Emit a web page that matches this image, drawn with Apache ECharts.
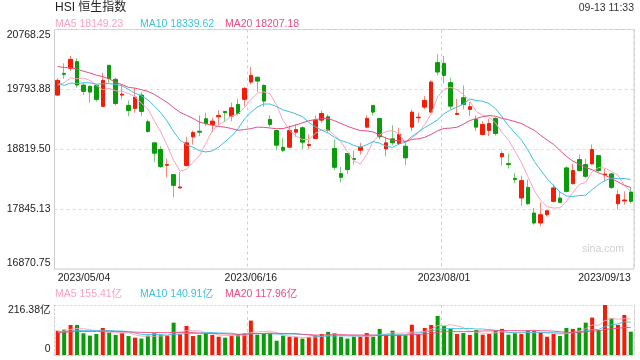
<!DOCTYPE html>
<html><head><meta charset="utf-8">
<script src="https://cdn.jsdelivr.net/npm/echarts/dist/echarts.min.js"></script>
<style>html,body{margin:0;padding:0;background:#fff}#c{width:640px;height:360px}</style>
</head><body><div id="c"></div>
<script>
// ---------- data ----------
const dates = [
 '2023/05/04','2023/05/05','2023/05/08','2023/05/09','2023/05/10','2023/05/11','2023/05/12','2023/05/15','2023/05/16','2023/05/17',
 '2023/05/18','2023/05/19','2023/05/22','2023/05/23','2023/05/24','2023/05/25','2023/05/29','2023/05/30','2023/05/31','2023/06/01',
 '2023/06/02','2023/06/05','2023/06/06','2023/06/07','2023/06/08','2023/06/09','2023/06/12','2023/06/13','2023/06/14','2023/06/15',
 '2023/06/16','2023/06/19','2023/06/20','2023/06/21','2023/06/23','2023/06/26','2023/06/27','2023/06/28','2023/06/29','2023/06/30',
 '2023/07/03','2023/07/04','2023/07/05','2023/07/06','2023/07/07','2023/07/10','2023/07/11','2023/07/12','2023/07/13','2023/07/14',
 '2023/07/18','2023/07/19','2023/07/20','2023/07/21','2023/07/24','2023/07/25','2023/07/26','2023/07/27','2023/07/28','2023/07/31',
 '2023/08/01','2023/08/02','2023/08/03','2023/08/04','2023/08/07','2023/08/08','2023/08/09','2023/08/10','2023/08/11','2023/08/14',
 '2023/08/15','2023/08/16','2023/08/17','2023/08/18','2023/08/21','2023/08/22','2023/08/23','2023/08/24','2023/08/25','2023/08/28',
 '2023/08/29','2023/08/30','2023/08/31','2023/09/04','2023/09/05','2023/09/06','2023/09/07','2023/09/11','2023/09/12','2023/09/13'
];
const opens = [
 19701,20055,20137,20245,19864,19843,19859,19517,20186,19957,
 19701,19533,19484,19701,19267,18924,18815,18559,18407,18190,
 18554,19022,19113,19316,19223,19348,19435,19358,19549,19631,
 19913,19990,19859,19304,19125,18852,18852,19097,19169,18880,
 18994,19293,19348,18831,18423,18750,18668,18803,19179,19533,
 19321,18826,18989,18913,18869,19179,19332,19505,19424,20230,
 20218,19903,19386,19658,19468,19304,19060,19125,19321,18696,
 18586,18346,18026,18199,17782,17619,17754,17971,18026,18516,
 18260,18652,18570,18581,18717,18402,18418,17933,17978,18124
];
const closes = [
 19941,20039,20284,19864,19761,19750,19631,19941,19969,19565,
 19717,19451,19668,19435,19109,18755,18537,18570,18232,18206,
 18924,19092,19097,19239,19277,19370,19414,19495,19402,19810,
 20022,19929,19603,19223,18885,18803,19125,19141,18934,18896,
 19293,19402,19125,18526,18363,18488,18652,18852,19321,19424,
 19022,18924,18924,19060,18679,19424,19342,19614,19913,20076,
 20022,19521,19402,19549,19512,19179,19223,19239,19076,18750,
 18570,18325,18309,17933,17619,17754,17819,18190,17955,18134,
 18472,18472,18379,18815,18472,18418,18199,18080,17994,17971
];
const lows = [
 19690,19968,20093,19822,19701,19577,19598,19505,19903,19533,
 19631,19358,19414,19358,19087,18614,18516,18363,18036,18185,
 18542,18896,19032,19195,19097,19206,19260,19277,19370,19521,
 19876,19750,19512,19185,18803,18771,18843,19022,18826,18826,
 18989,19250,19097,18477,18281,18418,18570,18733,19157,19370,
 18978,18705,18885,18896,18559,19113,19250,19468,19414,20022,
 19892,19468,19380,19468,19358,19113,19043,19032,19043,18554,
 18505,18271,17901,17917,17591,17563,17726,17955,17945,18118,
 18244,18461,18353,18570,18444,18297,18173,17836,17917,17933
];
const highs = [
 19973,20218,20337,20300,19903,19859,19880,20066,20190,19985,
 19864,19614,19810,19750,19304,18934,18869,18663,18410,18451,
 19022,19125,19370,19414,19332,19456,19440,19577,19642,19831,
 20164,20011,19876,19375,19141,19006,19206,19223,19195,19060,
 19370,19451,19386,18978,18532,18752,18798,18924,19370,19535,
 19325,19022,19211,19169,18950,19468,19414,19685,19941,20365,
 20337,19985,19642,19859,19587,19370,19277,19316,19342,18787,
 18745,18434,18390,18325,17863,17955,17822,18243,18134,18542,
 18581,18733,18663,18896,18720,18500,18434,18162,18134,18206
];
// turnover, 亿
const volumes = [
 105,110,130,130,94,84,91,117,98,87,
 94,82,75,71,84,94,87,84,140,90,
 126,82,87,94,87,79,75,84,87,93,
 149,88,91,95,62,84,79,77,71,77,
 85,91,100,94,79,71,79,79,95,79,
 113,87,105,87,85,131,90,117,130,169,
 126,113,91,95,87,108,88,91,105,113,
 88,94,91,105,105,96,79,91,82,117,
 113,118,140,162,108,216.38,159,130,173,101
];
// closes / turnover of the sessions before the window (moving-average warm-up)
const prevCloses = [20409,20275,20332,20485,20309,20344,20438,20650,20782,20367,20396,19897,19959,19617,19757,19841,19895,19934,19699];
const prevVolumes = [95,88,102,97,91,86,99,104,110,96,93,108,90,101,94,89,97,112,98];

const priceTicks = [16870.75, 17845.13, 18819.50, 19793.88, 20768.25];
const priceTickLabels = ['16870.75','17845.13','18819.50','19793.88','20768.25'];
const volTicks = [0, 216.38];
const volTickLabels = ['0','216.38亿'];
const dateLabelIdx = [0, 30, 60, 89];
const markIdx = [30, 60];
const titleText = 'HSI 恒生指数';
const timeText = '09-13 11:33';
const maNames = ['MA5','MA10','MA20'];
const maPeriods = [5,10,20];
const maPriceText = ['18149.23','18339.62','18207.18'];
const maVolText = ['155.41亿','140.91亿','117.96亿'];

// ---------- style ----------
const FONT = '"Liberation Sans", Arial, "Noto Sans CJK SC", sans-serif';
const UP = '#f41c06', DOWN = '#0a9c0a', UP_W = '#f7877c', DOWN_W = '#79c979';
const MA_COLORS = ['#f9a3bd', '#3dc0df', '#ec4c7f'];
const FS = 10.5;

function movingAvg(prev, cur, n) {
  const all = prev.concat(cur), out = [];
  for (let i = prev.length; i < all.length; i++) {
    let s = 0; for (let k = i - n + 1; k <= i; k++) s += all[k];
    out.push(+(s / n).toFixed(2));
  }
  return out;
}

const wickData = dates.map((d, i) => [opens[i], closes[i], lows[i], highs[i]]);
const bodyData = dates.map((d, i) => [opens[i], closes[i], Math.min(opens[i], closes[i]), Math.max(opens[i], closes[i])]);
const volData = dates.map((d, i) => ({ value: volumes[i], itemStyle: { color: closes[i] >= opens[i] ? UP : DOWN } }));

const xData = dates.map((d, i) => {
  if (i === 0) return { value: d, textStyle: { align: 'left' } };
  if (i === dates.length - 1) return { value: d, textStyle: { align: 'right' } };
  return d;
});

function labelFor(ticks, labels, v) {
  for (let i = 0; i < ticks.length; i++) if (Math.abs(ticks[i] - v) < 0.01) return labels[i];
  return '';
}
const pMin = priceTicks[0], pMax = priceTicks[priceTicks.length - 1];
const vMin = volTicks[0], vMax = volTicks[volTicks.length - 1];

const series = [
  { type: 'candlestick', xAxisIndex: 0, yAxisIndex: 0, data: wickData, barWidth: 1,
    itemStyle: { color: UP_W, color0: DOWN_W, borderColor: UP_W, borderColor0: DOWN_W, borderWidth: 1 }, z: 2 },
  { type: 'candlestick', xAxisIndex: 0, yAxisIndex: 0, data: bodyData, barWidth: 4,
    itemStyle: { color: UP, color0: DOWN, borderColor: UP, borderColor0: DOWN, borderWidth: 1 }, z: 3 },
  { type: 'bar', xAxisIndex: 1, yAxisIndex: 1, data: volData, barWidth: 4, z: 2 }
];
maPeriods.forEach((n, k) => {
  series.push({ type: 'line', xAxisIndex: 0, yAxisIndex: 0, data: movingAvg(prevCloses, closes, n),
    showSymbol: false, symbol: 'none', smooth: false, lineStyle: { width: 1, color: MA_COLORS[k] }, z: 4 });
  series.push({ type: 'line', xAxisIndex: 1, yAxisIndex: 1, data: movingAvg(prevVolumes, volumes, n),
    showSymbol: false, symbol: 'none', smooth: false, lineStyle: { width: 1, color: MA_COLORS[k], opacity: 0.9 }, z: 4 });
});

const graphics = [
  { type: 'text', x: 55, y: 8, style: { text: titleText, fill: '#222', font: '12px ' + FONT, textVerticalAlign: 'middle', verticalAlign: 'middle' } },
  { type: 'text', x: 634, y: 8.5, style: { text: timeText, fill: '#333', font: FS + 'px ' + FONT, textAlign: 'right', align: 'right', textVerticalAlign: 'middle', verticalAlign: 'middle' } },
  { type: 'text', x: 582, y: 249, style: { text: 'sina.com', fill: '#cfcfcf', font: FS + 'px ' + FONT, textVerticalAlign: 'middle', verticalAlign: 'middle' } }
];
const legX = [55, 140, 225];
maNames.forEach((nm, k) => {
  graphics.push({ type: 'text', x: legX[k], y: 24, style: { text: nm + ' ' + maPriceText[k], fill: MA_COLORS[k], font: FS + 'px ' + FONT, textVerticalAlign: 'middle', verticalAlign: 'middle' } });
  graphics.push({ type: 'text', x: legX[k], y: 294, style: { text: nm + ' ' + maVolText[k], fill: MA_COLORS[k], font: FS + 'px ' + FONT, textVerticalAlign: 'middle', verticalAlign: 'middle' } });
});

const richTB = {
  t: { padding: [11, 0, 0, 0], fontSize: FS, color: '#222', fontFamily: FONT },
  b: { padding: [0, 0, 11, 0], fontSize: FS, color: '#222', fontFamily: FONT }
};

const option = {
  animation: false,
  backgroundColor: '#fff',
  grid: [
    { left: 54.5, top: 29.5, width: 579.5, height: 239.5, show: true, borderColor: '#cccccc', borderWidth: 1, outerBoundsMode: 'none', containLabel: false },
    { left: 54.5, top: 305, width: 579.5, height: 50, outerBoundsMode: 'none', containLabel: false }
  ],
  xAxis: [
    { type: 'category', gridIndex: 0, data: xData, boundaryGap: true,
      axisLine: { show: false }, axisTick: { show: false },
      axisLabel: { interval: (i) => dateLabelIdx.indexOf(i) >= 0, margin: 4, fontSize: FS, color: '#222', fontFamily: FONT, hideOverlap: false },
      splitLine: { show: true, interval: (i) => markIdx.indexOf(i) >= 0, lineStyle: { color: '#d0d0d0', type: [3, 3], width: 1 } } },
    { type: 'category', gridIndex: 1, data: dates, boundaryGap: true,
      axisLine: { show: true, lineStyle: { color: '#d0d0d0', type: [2, 2] } }, axisTick: { show: false }, axisLabel: { show: false },
      splitLine: { show: true, interval: (i) => markIdx.indexOf(i) >= 0, lineStyle: { color: '#d0d0d0', type: [3, 3], width: 1 } } }
  ],
  yAxis: [
    { type: 'value', gridIndex: 0, min: pMin, max: pMax, scale: true,
      axisLine: { show: false }, axisTick: { show: false, customValues: priceTicks },
      axisLabel: { customValues: priceTicks, margin: 4, fontSize: FS, color: '#222', fontFamily: FONT,
        formatter: (v) => { const s = labelFor(priceTicks, priceTickLabels, v); if (Math.abs(v - pMax) < 0.01) return '{t|' + s + '}'; if (Math.abs(v - pMin) < 0.01) return '{b|' + s + '}'; return s; },
        rich: richTB },
      splitLine: { show: true, lineStyle: { color: '#dcdcdc', type: [3, 3] } } },
    { type: 'value', gridIndex: 1, min: vMin, max: vMax,
      axisLine: { show: true, lineStyle: { color: '#d0d0d0', type: [2, 2] } }, axisTick: { show: false, customValues: volTicks },
      axisLabel: { customValues: volTicks, margin: 4, fontSize: FS, color: '#222', fontFamily: FONT,
        formatter: (v) => { const s = labelFor(volTicks, volTickLabels, v); if (Math.abs(v - vMax) < 0.01) return '{t|' + s + '}'; return '{b|' + s + '}'; },
        rich: richTB },
      splitLine: { show: true, lineStyle: { color: '#d0d0d0', type: [2, 2] } } },
    { type: 'value', gridIndex: 1, min: vMin, max: vMax, position: 'right',
      axisLine: { show: true, lineStyle: { color: '#d0d0d0', type: [2, 2] } }, axisTick: { show: false }, axisLabel: { show: false }, splitLine: { show: false } }
  ],
  graphic: graphics,
  series: series
};

const chart = echarts.init(document.getElementById('c'), null, { renderer: 'canvas' });
chart.setOption(option);
</script></body></html>
